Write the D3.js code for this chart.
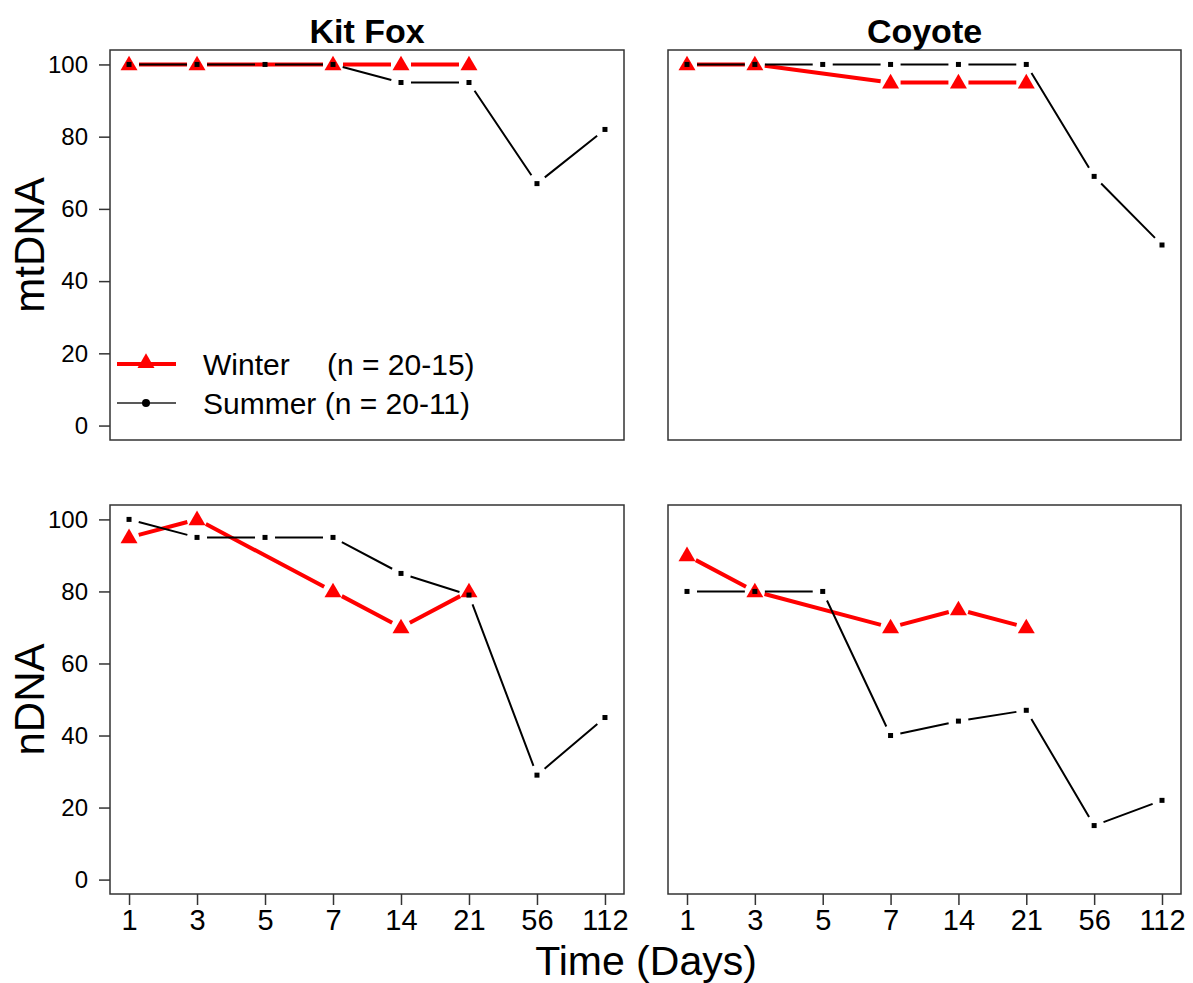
<!DOCTYPE html>
<html>
<head>
<meta charset="utf-8">
<script src="https://cdn.jsdelivr.net/npm/d3@7"></script>
<style>
	body { margin: 0; background: #fff; }
	text { font-family: "Liberation Sans", Arial, sans-serif; }
</style>
</head>
<body>
<script>
var days = ["1", "3", "5", "7", "14", "21", "56", "112"];
var yTicks = [0, 20, 40, 60, 80, 100];

// winter has no sample on day 5 and none after day 21
var kitFoxMtWinter = [100, 100, null, 100, 100, 100, null, null];
var kitFoxMtSummer = [100, 100, 100, 100, 95, 95, 67, 82];
var coyoteMtWinter = [100, 100, null, 95, 95, 95, null, null];
var coyoteMtSummer = [100, 100, 100, 100, 100, 100, 69, 50];
var kitFoxNuWinter = [95, 100, null, 80, 70, 80, null, null];
var kitFoxNuSummer = [100, 95, 95, 95, 85, 79, 29, 45];
var coyoteNuWinter = [90, 80, null, 70, 75, 70, null, null];
var coyoteNuSummer = [80, 80, 80, 40, 44, 47, 15, 22];

var titles = ["Kit Fox", "Coyote"];
var rowLabels = ["mtDNA", "nDNA"];
var legendNames = ["Winter", "Summer (n = 20-11)"];

var red = "#ff0000";
var gap = 10; // type "b": lines stop short of the points

var svg = d3.select("body")
	.append("svg")
	.attr("width", 1193)
	.attr("height", 983);

var cols = [[110, 624], [668, 1181]];
var rows = [[50, 440], [505, 894]];

var panels = [
	{ col: 0, row: 0, winter: kitFoxMtWinter, summer: kitFoxMtSummer },
	{ col: 1, row: 0, winter: coyoteMtWinter, summer: coyoteMtSummer },
	{ col: 0, row: 1, winter: kitFoxNuWinter, summer: kitFoxNuSummer },
	{ col: 1, row: 1, winter: coyoteNuWinter, summer: coyoteNuSummer }
];

function points(vals, x, y) {
	var pts = [];
	vals.forEach(function (v, i) {
		if (v !== null) pts.push([x(days[i]), y(v)]);
	});
	return pts;
}

function gappedPath(pts) {
	var d = [];
	for (var i = 0; i < pts.length - 1; i++) {
		var a = pts[i], b = pts[i + 1];
		var dx = b[0] - a[0], dy = b[1] - a[1];
		var len = Math.sqrt(dx * dx + dy * dy);
		if (len <= 2 * gap) continue;
		var ux = dx / len, uy = dy / len;
		d.push("M", a[0] + ux * gap, a[1] + uy * gap,
			"L", b[0] - ux * gap, b[1] - uy * gap);
	}
	return d.join(" ");
}

var tri = d3.symbol().type(d3.symbolTriangle).size(125);

panels.forEach(function (p) {
	var x0 = cols[p.col][0], x1 = cols[p.col][1];
	var y0 = rows[p.row][0], y1 = rows[p.row][1];

	var x = d3.scalePoint().domain(days).range([x0, x1]).padding(0.28);
	var y = d3.scaleLinear().domain([-4, 104]).range([y1, y0]);

	var g = svg.append("g");

	// winter
	var wp = points(p.winter, x, y);
	g.append("path")
		.attr("d", gappedPath(wp))
		.attr("fill", "none")
		.attr("stroke", red)
		.attr("stroke-width", 4);
	g.selectAll(".tri")
		.data(wp)
		.enter().append("path")
		.attr("d", tri)
		.attr("transform", function (d) { return "translate(" + d[0] + "," + (d[1] + 1) + ")"; })
		.attr("fill", red);

	// summer
	var sp = points(p.summer, x, y);
	g.append("path")
		.attr("d", gappedPath(sp))
		.attr("fill", "none")
		.attr("stroke", "black")
		.attr("stroke-width", 2);
	g.selectAll(".sq")
		.data(sp)
		.enter().append("rect")
		.attr("x", function (d) { return d[0] - 2.5; })
		.attr("y", function (d) { return d[1] - 2.5; })
		.attr("width", 5)
		.attr("height", 5)
		.attr("fill", "black");

	// box
	g.append("rect")
		.attr("x", x0)
		.attr("y", y0)
		.attr("width", x1 - x0)
		.attr("height", y1 - y0)
		.attr("fill", "none")
		.attr("stroke", "#333")
		.attr("stroke-width", 1.5);

	if (p.col === 0) {
		var ay = g.append("g")
			.attr("transform", "translate(" + x0 + ",0)")
			.call(d3.axisLeft(y).tickValues(yTicks).tickSize(11).tickPadding(11));
		ay.select(".domain").remove();
		ay.selectAll("line").attr("stroke", "#333").attr("stroke-width", 1.5);
		ay.selectAll("text")
			.attr("font-size", "24px")
			.attr("font-family", "Liberation Sans, Arial, sans-serif")
			.attr("fill", "black");
	}

	if (p.row === 1) {
		var ax = g.append("g")
			.attr("transform", "translate(0," + y1 + ")")
			.call(d3.axisBottom(x).tickSize(11).tickPadding(4));
		ax.select(".domain").remove();
		ax.selectAll("line").attr("stroke", "#333").attr("stroke-width", 1.5);
		ax.selectAll("text")
			.attr("font-size", "29px")
			.attr("font-family", "Liberation Sans, Arial, sans-serif")
			.attr("fill", "black");
	}

	if (p.row === 0) {
		svg.append("text")
			.attr("x", (x0 + x1) / 2)
			.attr("y", 43)
			.attr("text-anchor", "middle")
			.attr("font-weight", "bold")
			.attr("font-size", "34px")
			.text(titles[p.col]);
	}

	if (p.col === 0) {
		svg.append("text")
			.attr("transform", "translate(44," + ((y0 + y1) / 2) + ")rotate(-90)")
			.attr("text-anchor", "middle")
			.attr("font-size", "42px")
			.text(rowLabels[p.row]);
	}
});

svg.append("text")
	.attr("x", 646)
	.attr("y", 975)
	.attr("text-anchor", "middle")
	.attr("font-size", "41px")
	.text("Time (Days)");

// legend in the first panel
var legY = [364, 403];
svg.append("line")
	.attr("x1", 117).attr("x2", 176)
	.attr("y1", legY[0]).attr("y2", legY[0])
	.attr("stroke", red)
	.attr("stroke-width", 4);
svg.append("path")
	.attr("d", tri)
	.attr("transform", "translate(146," + (legY[0] - 1) + ")")
	.attr("fill", red);
svg.append("line")
	.attr("x1", 117).attr("x2", 176)
	.attr("y1", legY[1]).attr("y2", legY[1])
	.attr("stroke", "#222")
	.attr("stroke-width", 1.5);
svg.append("circle")
	.attr("cx", 146)
	.attr("cy", legY[1])
	.attr("r", 4)
	.attr("fill", "black");

legendNames.forEach(function (name, i) {
	svg.append("text")
		.attr("x", 203)
		.attr("y", legY[i] + 10.5)
		.attr("font-size", "30px")
		.text(name);
});
svg.append("text")
	.attr("x", 327)
	.attr("y", legY[0] + 10.5)
	.attr("font-size", "30px")
	.text("(n = 20-15)");
</script>
</body>
</html>
